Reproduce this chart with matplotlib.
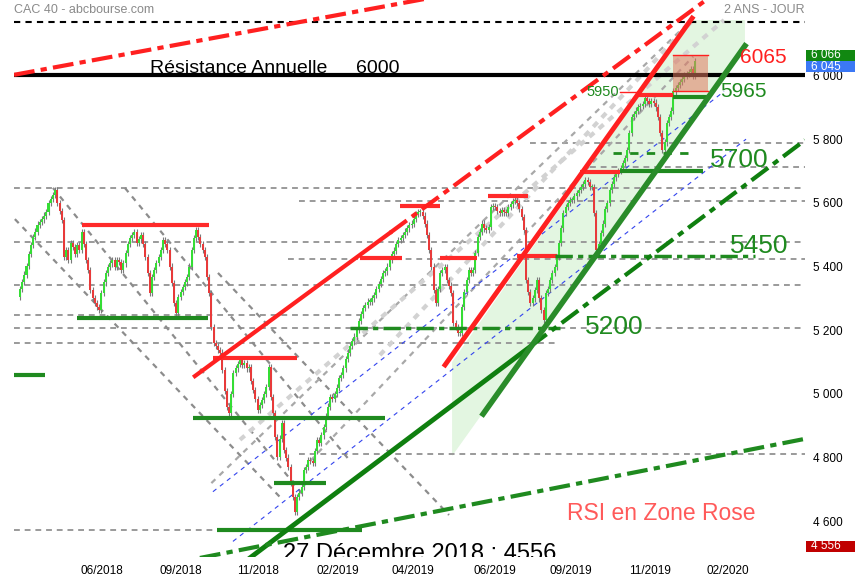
import matplotlib
matplotlib.use("Agg")
import matplotlib.pyplot as plt
import matplotlib.transforms as mtransforms
from matplotlib.patches import Rectangle, Polygon

plt.rcParams["font.family"] = ["Liberation Sans", "DejaVu Sans"]

# CAC 40 daily closes, spring 2018 -> 19 Dec 2019
closes = [
    5330, 5352, 5375, 5401, 5440, 5468, 5493, 5510, 5532, 5540,
    5548, 5560, 5571, 5600, 5612, 5625, 5640, 5600, 5575, 5546,
    5430, 5452, 5420, 5474, 5461, 5440, 5468, 5452, 5509, 5470,
    5420, 5389, 5327, 5300, 5285, 5273, 5264, 5317, 5350, 5380,
    5399, 5410, 5421, 5400, 5421, 5415, 5389, 5410, 5443, 5470,
    5490, 5499, 5509, 5474, 5485, 5499, 5470, 5430, 5380, 5317,
    5367, 5390, 5411, 5430, 5452, 5484, 5470, 5452, 5400, 5349,
    5286, 5254, 5305, 5320, 5336, 5350, 5367, 5400, 5452, 5490,
    5515, 5493, 5470, 5452, 5430, 5367, 5317, 5210, 5160, 5150,
    5138, 5130, 5075, 5010, 4959, 4940, 5000, 5066, 5080, 5095,
    5107, 5090, 5097, 5080, 5085, 5040, 5013, 4985, 4950, 4965,
    4981, 5000, 5022, 5085, 4990, 4940, 4865, 4802, 4860, 4909,
    4824, 4800, 4771, 4720, 4677, 4630, 4677, 4690, 4708, 4761,
    4770, 4793, 4790, 4783, 4820, 4856, 4846, 4870, 4896, 4930,
    4960, 4990, 4985, 5000, 5020, 5050, 5060, 5080, 5110, 5130,
    5150, 5165, 5180, 5200, 5230, 5250, 5270, 5280, 5290, 5290,
    5300, 5310, 5330, 5345, 5360, 5380, 5385, 5400, 5420, 5440,
    5450, 5470, 5483, 5490, 5500, 5510, 5520, 5530, 5535, 5550,
    5565, 5570, 5571, 5560, 5535, 5500, 5452, 5400, 5327, 5286,
    5330, 5380, 5390, 5399, 5358, 5340, 5317, 5223, 5210, 5191,
    5191, 5273, 5320, 5358, 5389, 5380, 5389, 5443, 5493, 5510,
    5535, 5520, 5515, 5524, 5587, 5590, 5587, 5575, 5568, 5578,
    5570, 5568, 5587, 5595, 5605, 5609, 5600, 5580, 5556, 5515,
    5358, 5320, 5286, 5300, 5327, 5358, 5300, 5264, 5232, 5317,
    5330, 5358, 5380, 5399, 5430, 5474, 5520, 5568, 5587, 5600,
    5609, 5609, 5620, 5631, 5640, 5650, 5660, 5672, 5665, 5650,
    5650, 5568, 5452, 5470, 5505, 5535, 5580, 5600, 5640, 5660,
    5680, 5690, 5700, 5710, 5725, 5740, 5766, 5820, 5870, 5880,
    5890, 5900, 5905, 5910, 5930, 5920, 5910, 5920, 5915, 5900,
    5870, 5820, 5766, 5790, 5850, 5870, 5890, 5950, 5960, 5970,
    5980, 5990, 6000, 6005, 6010, 6020, 6000, 6045,
]
first_open = 5305
wick = 10

tick_pos = [37.3, 73.2, 108.2, 144.5, 178.6, 215.9, 250.5, 286.4, 321.8]
tick_labels = ["06/2018", "09/2018", "11/2018", "02/2019", "04/2019",
               "06/2019", "09/2019", "11/2019", "02/2020"]
price_ticks = [4600, 4800, 5000, 5200, 5400, 5600, 5800, 6000]

# horizontal grey dashed levels: (price, x start, x end)
grey_levels = [
    (5788, 231.8, 356.8), (5713, 259.0, 356.8), (5647, -2.7, 356.8),
    (5606, 127.0, 356.8), (5477, -2.7, 356.8), (5424, 122.0, 356.8),
    (5342, -2.7, 356.8), (5248, -2.7, 155.0), (5207, -2.7, 356.8),
    (5160, -2.7, 245.0), (4812, 127.0, 356.8), (4573, -2.7, 89.5),
]
# resistances (red) and supports (green): (price, x start, x end)
red_levels = [
    (5530, 28.2, 85.9), (5113, 87.7, 125.9), (5427, 154.5, 173.6),
    (5590, 172.7, 190.9), (5427, 190.9, 207.7), (5622, 212.7, 230.9),
    (5433, 225.9, 244.1), (5697, 254.5, 272.7), (5940, 280.5, 296.8),
]
green_levels = [
    (5239, 25.9, 85.5), (4925, 78.6, 165.9), (4720, 115.5, 139.1),
    (4573, 89.5, 155.5), (5060, -2.7, 11.4), (5700, 272.7, 310.5),
    (5932, 296.8, 312.7),
]
green_dashdot_levels = [(5207, 150.0, 245.5), (5433, 243.2, 334.1)]

# channel lines: (x0, p0, x1, p1)
grey_down = [
    (-2.3, 5549, 118.2, 4676), (15.0, 5647, 129.5, 4676),
    (47.7, 5647, 150.0, 4790), (90.0, 5380, 195.0, 4620),
]
grey_up = [(87.0, 4720, 306.0, 6180), (132.0, 4790, 306.0, 6060)]
light_up = [(100.0, 4856, 320.0, 6174), (163.6, 5122, 305.9, 6174)]
blue_up = [(87.7, 4693, 320.0, 5950), (96.8, 4537, 330.0, 5800)]

DASHDOT = (0, (5, 1.5, 1.5, 1.5))

fig = plt.figure(figsize=(8.55, 5.8), dpi=100)
ax = fig.add_axes([14 / 855, 23 / 580, 791 / 855, 557 / 580])
ax.set_xlim(-2.7, 356.8)
ax.set_ylim(4488, 6237)
for s in ax.spines.values():
    s.set_visible(False)

# light green channel
chan = Polygon([(196.4, 5100), (196.4, 4805), (329.5, 6093), (329.5, 6174), (305.5, 6174)],
               closed=True, facecolor="#e3f6e1", edgecolor="none", zorder=0)
ax.add_patch(chan)

for p, a, b in grey_levels:
    ax.plot([a, b], [p, p], color="#9a9a9a", lw=1.4, ls=(0, (3, 2.5)), zorder=1)
ax.plot([-2.7, 356.8], [6168, 6168], color="black", lw=1.5, ls=(0, (3, 2.5)), zorder=2)

for x0, p0, x1, p1 in grey_down:
    ax.plot([x0, x1], [p0, p1], color="#8c8c8c", lw=1.6, ls=(0, (2.5, 2.5)), zorder=1)
for x0, p0, x1, p1 in grey_up:
    ax.plot([x0, x1], [p0, p1], color="#a8a8a8", lw=1.6, ls=(0, (2.5, 2.5)), zorder=1)
for x0, p0, x1, p1 in light_up:
    ax.plot([x0, x1], [p0, p1], color="#d2d2d2", lw=3, ls=(0, (1.5, 1.5)), zorder=1)
for x0, p0, x1, p1 in blue_up:
    ax.plot([x0, x1], [p0, p1], color="#3344ee", lw=0.8, ls=(0, (4, 4)), zorder=1)

# candles
opens = [first_open] + closes[:-1]
for i, (o, c) in enumerate(zip(opens, closes)):
    col = "#35dd35" if c >= o else "#e83a3a"
    ax.vlines(i, min(o, c) - wick, max(o, c) + wick, color="#7a7a7a", lw=0.8, zorder=3)
    ax.bar(i, max(abs(c - o), 4), bottom=min(o, c), width=0.95, color=col,
           edgecolor="none", zorder=4)

# levels
for p, a, b in red_levels:
    ax.plot([a, b], [p, p], color="#ff2a2a", lw=3, solid_capstyle="butt", zorder=5)
for p, a, b in green_levels:
    ax.plot([a, b], [p, p], color="#1f8a1f", lw=3, solid_capstyle="butt", zorder=5)
for p, a, b in green_dashdot_levels:
    ax.plot([a, b], [p, p], color="#1f8a1f", lw=2.5, ls=DASHDOT, zorder=5)
ax.plot([269.5, 304.5], [5757, 5757], color="#1f8a1f", lw=2, ls=(0, (3, 3)), zorder=5)
ax.plot([-2.7, 356.8], [6000, 6000], color="black", lw=3, zorder=6)

# trend lines
ax.plot([-2.7, 190], [6002, 6248], color="#ff2020", lw=3, ls=DASHDOT, zorder=6)
ax.plot([79.5, 168.2], [5056, 5506], color="#ff2020", lw=3, zorder=6)
ax.plot([168.2, 311.8], [5506, 6237], color="#ff2020", lw=3, ls=DASHDOT, zorder=6)
ax.plot([193.2, 305.5], [5091, 6180], color="#ff2020", lw=3.5, zorder=6)
ax.plot([104.5, 231.8], [4485, 5148], color="#0f7f0f", lw=3.5, zorder=6)
ax.plot([231.8, 356.8], [5148, 5797], color="#0f7f0f", lw=3, ls=DASHDOT, zorder=6)
ax.plot([210.5, 329.5], [4937, 6093], color="#2a8c2a", lw=4, zorder=6)
ax.plot([81.8, 356.8], [4485, 4859], color="#1f8a1f", lw=3, ls=DASHDOT, zorder=6)

# 5950-6065 box
ax.add_patch(Rectangle((296.8, 5950), 15.9, 115, facecolor="#e07a60", alpha=0.55,
                       edgecolor="none", zorder=7))
ax.plot([296.8, 312.7], [6065, 6065], color="#ff2020", lw=1, zorder=7)
ax.plot([296.8, 312.7], [5950, 5950], color="#ff2020", lw=1, zorder=7)
ax.plot([272.7, 281.0], [5948, 5948], color="#ff2020", lw=1, zorder=7)

# texts
ax.text(59.1, 6008, "Résistance Annuelle", fontsize=14, va="baseline", zorder=8)
ax.text(152.7, 6008, "6000", fontsize=14, va="baseline", zorder=8)
ax.text(327.3, 6058, "6065", fontsize=15, color="#ff2020", va="center", zorder=8)
ax.text(318.2, 5951, "5965", fontsize=15, color="#1f8a1f", va="center", zorder=8)
ax.text(257.7, 5948, "5950", fontsize=10.5, color="#1f8a1f", va="center", zorder=8)
ax.text(313.6, 5735, "5700", fontsize=19, color="#1f8a1f", va="center", zorder=8)
ax.text(322.7, 5465, "5450", fontsize=19, color="#1f8a1f", va="center", zorder=8)
ax.text(256.8, 5210, "5200", fontsize=19, color="#1f8a1f", va="center", zorder=8)
ax.text(248.6, 4625, "RSI en Zone Rose", fontsize=16.5, color="#ff5a5a", va="center", zorder=8)
ax.text(181.8, 4478, "27 Décembre 2018 : 4556", fontsize=17, ha="center", va="baseline",
        clip_on=True, zorder=8)
ax.text(0, 0.993, "CAC 40 - abcbourse.com", transform=ax.transAxes, fontsize=9,
        color="#8a8a8a", va="top")
ax.text(1.0, 0.993, "2 ANS - JOUR", transform=ax.transAxes, fontsize=9,
        color="#8a8a8a", va="top", ha="right")

# axes ticks
ax.set_xticks(tick_pos)
ax.set_xticklabels(tick_labels, fontsize=8.5,
                   family=["Liberation Sans Narrow", "DejaVu Sans Condensed", "Liberation Sans"])
ax.yaxis.tick_right()
ax.set_yticks(price_ticks)
ax.set_yticklabels([f"{p:,}".replace(",", " ") for p in price_ticks], fontsize=8.5)
ax.tick_params(length=0, pad=6)

# price tags on the right
blend = mtransforms.blended_transform_factory(ax.transAxes, ax.transData)
for p, txt, col in [(6063, "6 066", "#118811"), (6028, "6 045", "#3b78f5"), (4521, "4 556", "#c00000")]:
    ax.add_patch(Rectangle((1.001, p - 17), 0.07, 34, transform=blend, facecolor=col,
                           edgecolor="none", clip_on=False, zorder=9))
    ax.text(1.008, p, txt, transform=blend, color="white", fontsize=8.5, va="center",
            clip_on=False, zorder=10)

fig.savefig("out.png", dpi=100)
